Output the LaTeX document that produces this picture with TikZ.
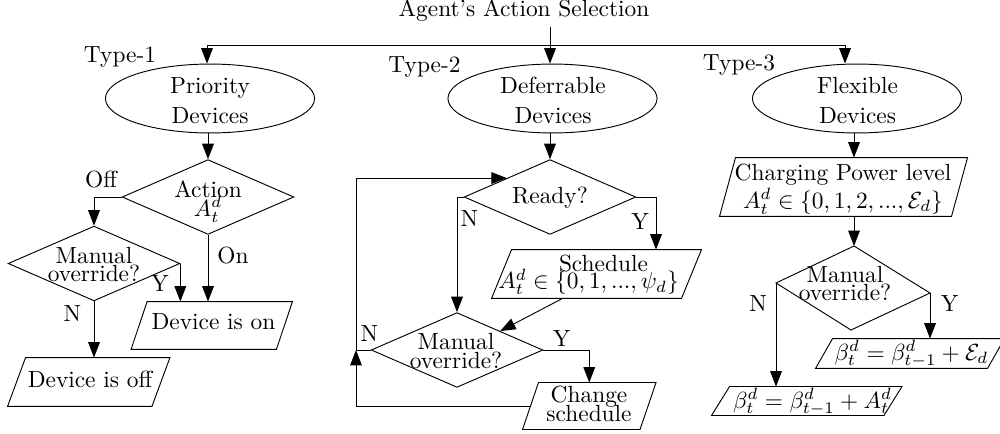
\documentclass[tikz,border=0pt]{standalone}
\usetikzlibrary{shapes.geometric,arrows.meta}
\newcommand\drawpara[2]{\draw ([shift={(#2,0)}]#1.north west) -- ([shift={(#2,0)}]#1.north east) -- ([shift={(-#2,0)}]#1.south east) -- ([shift={(-#2,0)}]#1.south west) -- cycle;}
\begin{document}
\begin{tikzpicture}[x=0.428pt,y=-0.428pt,
  arr/.style={-{Triangle[length=6.6pt,width=5pt]}},
  ell/.style={draw,ellipse,minimum width=89.5pt,minimum height=29.5pt,inner sep=0pt},
  dia/.style={draw,diamond,minimum width=73.5pt,minimum height=32pt,inner sep=0pt},
  para/.style={rectangle,inner sep=0pt},
  txt/.style={inner sep=0pt,align=center},
  lbl/.style={inner sep=0pt}]
\useasboundingbox (0,0) rectangle (1000,433);

% title and bus
\node[txt,inner sep=2pt] (title) at (524,11) {Agent's Action Selection};
\coordinate (hl) at (207,45);
\coordinate (hr) at (845,45);

% ellipses
\node[ell] (e1) at (210,98.5) {};
\node[ell] (e2) at (552.5,98.5) {};
\node[ell] (e3) at (857,98.5) {};
\node[txt] (e1t) at (210,100.5) {Priority\\[1pt]Devices};
\node[txt] (e2t) at (553,100.5) {Deferrable\\[1pt]Devices};
\node[txt] (e3t) at (857.5,100.5) {Flexible\\[1pt]Devices};
\node[lbl] (t1) at (120,57) {Type-1};
\node[lbl] (t2) at (424.5,67) {Type-2};
\node[lbl] (t3) at (739,65) {Type-3};

% Type 1
\node[dia] (d1) at (208,197) {};
\node[txt] (d1t) at (208,201.5) {Action\\[-4pt]$A_t^d$};
\node[dia] (m1) at (94,263.5) {};
\node[txt] (m1t) at (94,264.5) {Manual\\[-4pt]override?};
\node[para,minimum width=61.8pt,minimum height=20.1pt] (pon) at (211.75,325.5) {};
\node[txt] (pont) at (213.5,322) {Device is on};
\node[para,minimum width=61.4pt,minimum height=20.5pt] (poff) at (88.75,382) {};
\node[txt] (pofft) at (90,379) {Device is off};
\drawpara{pon}{8}
\drawpara{poff}{9}
\node[lbl] (loff) at (101,180) {Off};
\node[lbl] (lon) at (233,256) {On};
\node[lbl] (ly1) at (160,284) {Y};
\node[lbl] (ln1) at (72.5,314) {N};

\draw (hl) -- (hr);
\draw[arr] (hl) -- (hl |- e1.north);
\draw[arr] (e1.south -| d1.north) -- (d1.north);
\draw[arr] (d1.west) -| (m1.north);
\draw[arr] (d1.south) -- (d1.south |- pon.north);
\draw[arr] (m1.east) -- (m1.east |- pon.north);
\draw[arr] (m1.south) -- (m1.south |- poff.north);

% Type 2
\node[dia] (rdy) at (550,197) {};
\node[txt] (rdyt) at (550,198) {Ready?};
\node[para,minimum width=80.9pt,minimum height=20.5pt] (psch) at (596.5,274) {};
\node[txt] (pscht) at (588.5,275) {\rule{12.8pt}{0pt}Schedule\\[-4.7pt]$A_t^d\in\{0,1,...,\psi_d\}$};
\node[dia] (m2) at (457,350) {};
\node[txt] (m2t) at (456,351) {Manual\\[-4pt]override?};
\node[para,minimum width=49.9pt,minimum height=19.7pt] (pch) at (589.25,406) {};
\node[txt] (pcht) at (589,403.5) {Change\\[-3.9pt]schedule};
\drawpara{psch}{10}
\drawpara{pch}{8}
\coordinate (lx) at (356,0);
\coordinate (yb) at (656,197);
\node[lbl] (ln2) at (469.5,219) {N};
\node[lbl] (ly2) at (640,222) {Y};
\node[lbl] (ln3) at (369.5,333.5) {N};
\node[lbl] (ly3) at (561.5,338.5) {Y};

\draw[arr] (title.south -| rdy.north) -- (rdy.north |- e2.north);
\draw[arr] (e2.south -| rdy.north) -- (rdy.north);
\draw[arr] (rdy.west) -| (m2.north);
\draw[arr] (rdy.east) -- (yb) -- (yb |- psch.north);
\draw[arr] ([shift={(-34,0)}]psch.south) -- (m2.north east);
\draw[arr] (m2.west) -- (m2.west -| lx) -- (lx |- rdy.north west) -- (rdy.north west);
\draw[arr] (m2.east) -| (pch.north);
\draw[arr] (pch.west) -- (pch.west -| lx) -- (m2.west -| lx);

% Type 3
\node[para,minimum width=98.9pt,minimum height=24.8pt] (pchg) at (843.5,187) {};
\node[txt] (pchgt) at (843,189) {Charging Power level\\$A_t^d\in\{0,1,2,...,\mathcal{E}_d\}$};
\drawpara{pchg}{8}
\coordinate (d3t) at (854,246);
\coordinate (d3r) at (930,293);
\coordinate (d3b) at (851,330);
\coordinate (d3l) at (776,283);
\draw (d3t) -- (d3r) -- (d3b) -- (d3l) -- cycle;
\node[txt] (d3tx) at (845,283.5) {Manual\\[-4pt]override?};
\node[para,minimum width=73.2pt,minimum height=12.4pt] (pby) at (910,353.5) {};
\node[txt] (pbyt) at (911.5,354) {$\beta_t^d=\beta_{t-1}^d+\mathcal{E}_d$};
\node[para,minimum width=73.4pt,minimum height=12pt] (pbn) at (806.75,401) {};
\node[txt] (pbnt) at (812.5,402) {$\beta_t^d=\beta_{t-1}^d+A_t^d$};
\drawpara{pby}{8.5}
\drawpara{pbn}{9}
\node[lbl] (ln4) at (758,304) {N};
\node[lbl] (ly4) at (949.5,304) {Y};

\draw[arr] (hr) -- (hr |- e3.north);
\draw[arr] (e3.south -| d3t) -- (d3t |- pchg.north);
\draw[arr] (d3t |- pchg.south) -- (d3t);
\draw[arr] (d3l) -- (d3l |- pbn.north);
\draw[arr] (d3r) -- (d3r |- pby.north);
\end{tikzpicture}
\end{document}
